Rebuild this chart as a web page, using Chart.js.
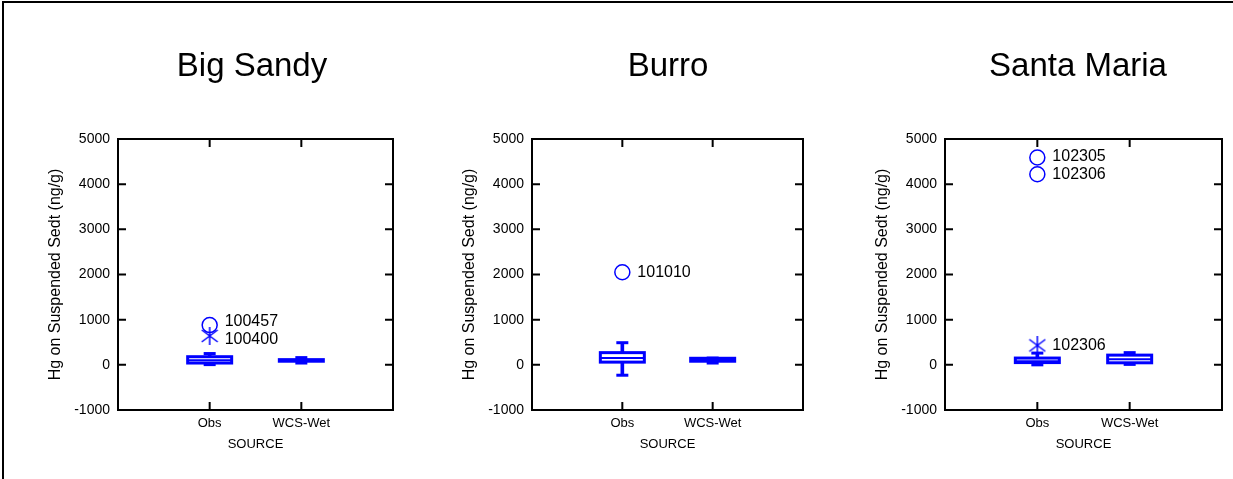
<!DOCTYPE html>
<html lang="en">
<head>
<meta charset="UTF-8">
<title>Hg on Suspended Sediment by Source</title>
<script src="https://cdn.jsdelivr.net/npm/chart.js"></script>
<style>
  html, body { margin: 0; padding: 0; background: #fff; overflow: hidden; }
  body { width: 1233px; height: 479px; position: relative; }
  #border { position: absolute; left: 2px; top: 1px; width: 1260px; height: 500px;
            border-top: 2px solid #000; border-left: 2px solid #000; }
  canvas { position: absolute; top: 0; }
</style>
</head>
<body>
<div id="border"></div>

<script>
// stations and sources
var stations = ['Big Sandy', 'Burro', 'Santa Maria'];
var sources = ['Obs', 'WCS-Wet'];
var yTicks = [-1000, 0, 1000, 2000, 3000, 4000, 5000];

// box summaries per source: min, lower hinge, median, upper hinge, max
var bigSandyBoxes = [[5, 40, 100, 180, 250], [40, 80, 100, 115, 160]];
var burroBoxes = [[-230, 60, 150, 270, 490], [40, 80, 110, 145, 150]];
var santaMariaBoxes = [[0, 50, 80, 150, 260], [10, 45, 125, 215, 270]];

// outliers: source, value, sample id, kind ('far' = circle, 'out' = asterisk)
var bigSandyOutliers = [['Obs', 880, '100457', 'far'], ['Obs', 640, '100400', 'out']];
var burroOutliers = [['Obs', 2050, '101010', 'far']];
var santaMariaOutliers = [['Obs', 4590, '102305', 'far'], ['Obs', 4220, '102306', 'far'], ['Obs', 430, '102306', 'out']];

var panelBoxes = [bigSandyBoxes, burroBoxes, santaMariaBoxes];
var panelOutliers = [bigSandyOutliers, burroOutliers, santaMariaOutliers];

// where each plot frame sits on the page
var panelLayout = [
  { plotLeft: 118, plotRight: 393, titleX: 252 },
  { plotLeft: 532, plotRight: 803, titleX: 668 },
  { plotLeft: 945, plotRight: 1222, titleX: 1078 }
];
var AXIS_W = 80;
var BLUE = '#0000ff';
var FONT = "'Liberation Sans', Arial, sans-serif";

// asterisk marker: an X with a vertical stroke
function asterisk() {
  var c = document.createElement('canvas');
  c.width = 18; c.height = 18;
  var g = c.getContext('2d');
  g.strokeStyle = BLUE;
  g.lineWidth = 1.5;
  g.beginPath();
  g.moveTo(1, 3); g.lineTo(17, 15);
  g.moveTo(17, 3); g.lineTo(1, 15);
  g.moveTo(9, 0); g.lineTo(9, 18);
  g.stroke();
  return c;
}
var starMark = asterisk();

// frame with inward ticks, box outlines, outlier ids
var boxPlotMarks = {
  id: 'boxPlotMarks',
  beforeDatasetsDraw: function(chart) {
    var ctx = chart.ctx, a = chart.chartArea, x = chart.scales.x, y = chart.scales.y;
    ctx.save();
    ctx.strokeStyle = '#000';
    ctx.lineWidth = 2;
    ctx.strokeRect(a.left, a.top, a.right - a.left, a.bottom - a.top);
    ctx.beginPath();
    y.ticks.forEach(function(t, i) {
      var py = y.getPixelForTick(i);
      ctx.moveTo(a.left, py); ctx.lineTo(a.left + 8, py);
      ctx.moveTo(a.right, py); ctx.lineTo(a.right - 8, py);
    });
    sources.forEach(function(s) {
      var px = x.getPixelForValue(x.getLabels().indexOf(s));
      ctx.moveTo(px, a.top); ctx.lineTo(px, a.top + 8);
      ctx.moveTo(px, a.bottom); ctx.lineTo(px, a.bottom - 8);
    });
    ctx.stroke();
    ctx.restore();
  },
  afterDatasetDraw: function(chart, args) {
    var ds = chart.data.datasets[args.index];
    if (!ds.outline) return;
    var ctx = chart.ctx;
    ctx.save();
    ctx.strokeStyle = BLUE;
    ctx.lineWidth = 3;
    args.meta.data.forEach(function(el, i) {
      if (ds.data[i] == null) return;
      var top = Math.min(el.y, el.base), bot = Math.max(el.y, el.base);
      ctx.strokeRect(el.x - el.width / 2, top, el.width, bot - top);
    });
    ctx.restore();
  },
  afterDatasetsDraw: function(chart) {
    var ctx = chart.ctx;
    // collect id labels, then spread out any that would overlap
    var items = [];
    chart.data.datasets.forEach(function(ds, di) {
      if (!ds.ids) return;
      chart.getDatasetMeta(di).data.forEach(function(pt, i) {
        items.push({ text: ds.ids[i], x: pt.x + 15, y: pt.y });
      });
    });
    items.sort(function(a, b) { return a.y - b.y; });
    for (var i = 1; i < items.length; i++) {
      var gap = items[i].y - items[i - 1].y;
      if (gap < 18) {
        var push = (18 - gap) / 2;
        items[i - 1].y -= push;
        items[i].y += push;
      }
    }
    ctx.save();
    ctx.fillStyle = '#000';
    ctx.font = '16px ' + FONT;
    ctx.textBaseline = 'middle';
    items.forEach(function(it) { ctx.fillText(it.text, it.x, it.y); });
    ctx.restore();
  }
};

function makePanel(p) {
  var lay = panelLayout[p];
  var left = lay.plotLeft - AXIS_W;
  var right = 2 * lay.titleX - left;
  var rightW = right - lay.plotRight;

  var canvas = document.createElement('canvas');
  canvas.width = right - left;
  canvas.height = 479;
  canvas.style.left = left + 'px';
  document.body.appendChild(canvas);

  var boxes = panelBoxes[p];
  var outs = panelOutliers[p];
  var labels = [''].concat(sources, ['']);

  function perLabel(fn) {
    return labels.map(function(l) {
      var k = sources.indexOf(l);
      return k < 0 ? null : fn(boxes[k]);
    });
  }
  var whiskers = perLabel(function(b) { return [b[0], b[4]]; });
  var hinges = perLabel(function(b) { return [b[1], b[3]]; });
  var medians = sources.map(function(s, k) { return { x: s, y: boxes[k][2] }; });
  var caps = [];
  sources.forEach(function(s, k) {
    caps.push({ x: s, y: boxes[k][0] });
    caps.push({ x: s, y: boxes[k][4] });
  });
  var far = outs.filter(function(o) { return o[3] === 'far'; });
  var out = outs.filter(function(o) { return o[3] === 'out'; });
  function pts(list) { return list.map(function(o) { return { x: o[0], y: o[1] }; }); }
  function ids(list) { return list.map(function(o) { return o[2]; }); }

  new Chart(canvas, {
    type: 'bar',
    data: {
      labels: labels,
      datasets: [
        { label: 'whisker', data: whiskers, backgroundColor: BLUE, barThickness: 3,
          grouped: false, order: 6 },
        { label: 'hinge', data: hinges, backgroundColor: '#fff', borderWidth: 0,
          barThickness: 44, grouped: false, order: 5, outline: true },
        { type: 'line', label: 'median', data: medians, showLine: false, pointStyle: 'line',
          pointRadius: 22, pointBorderWidth: 2, pointBorderColor: BLUE, order: 4 },
        { type: 'line', label: 'cap', data: caps, showLine: false, pointStyle: 'line',
          pointRadius: 6, pointBorderWidth: 3, pointBorderColor: BLUE, order: 3 },
        { type: 'line', label: 'far outside', data: pts(far), ids: ids(far), showLine: false,
          pointStyle: 'circle', pointRadius: 7.5, pointBorderWidth: 1.5,
          pointBorderColor: BLUE, pointBackgroundColor: 'rgba(0,0,0,0)', order: 2 },
        { type: 'line', label: 'outside', data: pts(out), ids: ids(out), showLine: false,
          pointStyle: starMark, pointRadius: 9, order: 1 }
      ]
    },
    options: {
      responsive: false,
      animation: false,
      events: [],
      layout: { padding: 0 },
      plugins: {
        legend: { display: false },
        tooltip: { enabled: false },
        title: {
          display: true, text: stations[p], color: '#000',
          font: { size: 33, family: FONT, weight: 'normal' },
          padding: { top: 47.5, bottom: 51.9 }
        }
      },
      scales: {
        x: {
          type: 'category', offset: false,
          grid: { display: false, drawTicks: false }, border: { display: false },
          ticks: { color: '#000', font: { size: 13, family: FONT }, padding: 6,
                   autoSkip: false, maxRotation: 0 },
          title: { display: true, text: 'SOURCE', color: '#000',
                   font: { size: 13, family: FONT }, padding: { top: 0, bottom: 27 } },
          afterFit: function(s) { s.height = 69; }
        },
        y: {
          type: 'linear', min: yTicks[0], max: yTicks[yTicks.length - 1],
          grid: { display: false, drawTicks: false }, border: { display: false },
          afterBuildTicks: function(s) { s.ticks = yTicks.map(function(v) { return { value: v }; }); },
          ticks: { color: '#000', font: { size: 14, family: FONT }, padding: 8,
                   callback: function(v) { return String(v); } },
          title: { display: true, text: 'Hg on Suspended Sedt (ng/g)', color: '#000',
                   font: { size: 16, family: FONT }, padding: { top: 8, bottom: 0 } },
          afterFit: function(s) { s.width = AXIS_W; }
        },
        y2: {
          position: 'right', display: true,
          grid: { display: false, drawTicks: false }, border: { display: false },
          ticks: { display: false },
          afterFit: function(s) { s.width = rightW; }
        }
      }
    },
    plugins: [boxPlotMarks]
  });
}

stations.forEach(function(s, p) { makePanel(p); });
</script>
</body>
</html>
